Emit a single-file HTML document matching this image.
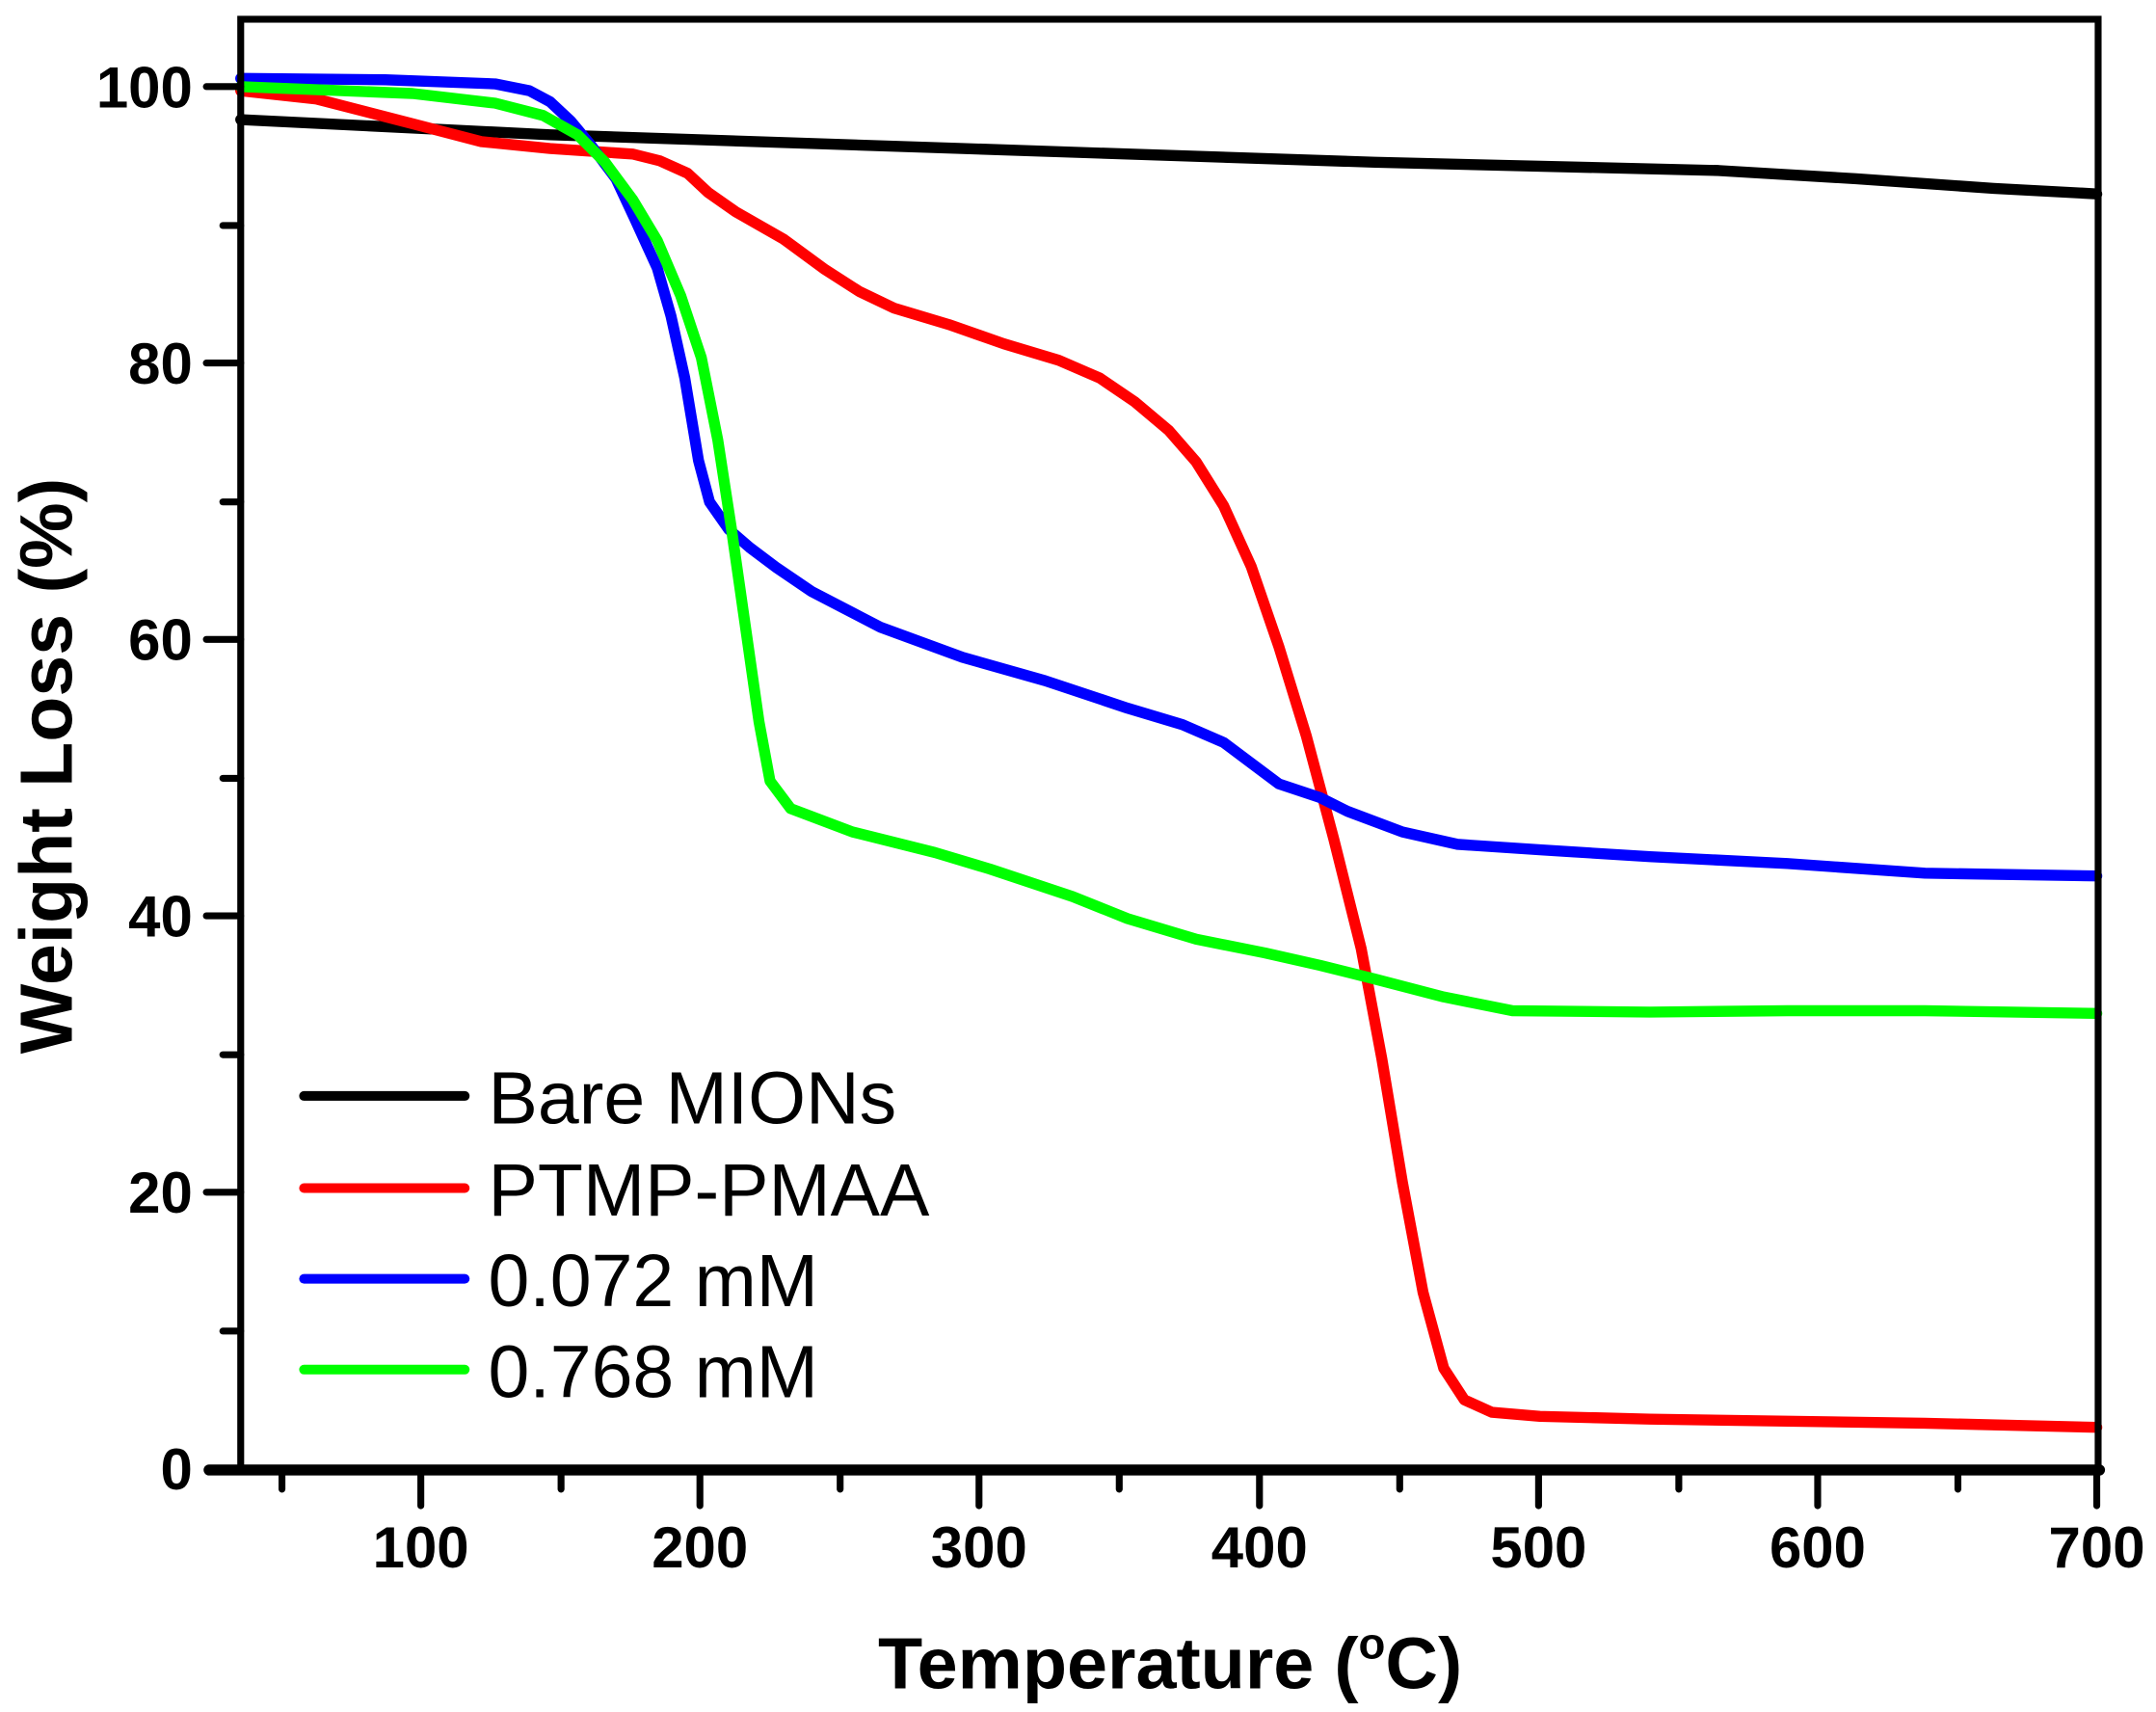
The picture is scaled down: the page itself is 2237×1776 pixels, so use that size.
<!DOCTYPE html>
<html><head><meta charset="utf-8"><style>html,body{margin:0;padding:0;background:#fff}svg{display:block}</style></head><body>
<svg width="2237" height="1776" viewBox="0 0 1568 1245" xmlns="http://www.w3.org/2000/svg" font-family="Liberation Sans, Arial, sans-serif">
<rect width="1568" height="1245" fill="#fff"/>
<g fill="none" stroke-linejoin="round" stroke-linecap="round" stroke-width="8">
<polyline stroke="#000" points="175,87 400,98 700,108 1000,118 1250,124 1350,130 1450,137 1525,141"/>
<polyline stroke="#f00" points="175,66 230,72 300,90 350,103 400,108 460,112 480,117 500,126 515,140 535,154 570,174 600,196 625,212 650,224 690,236 730,250 770,262 800,275 825,292 850,313 870,336 890,368 910,412 930,470 950,535 970,610 990,690 1005,770 1020,860 1035,940 1050,995 1065,1018 1085,1027 1120,1030 1200,1032 1400,1035 1525,1038"/>
<polyline stroke="#00f" points="175,57 280,58 360,61 385,66 400,74 415,88 430,106 448,130 462,160 478,195 488,230 498,275 508,335 516,365 530,385 545,398 565,413 590,430 640,456 700,478 760,495 820,515 860,527 890,540 910,555 930,570 960,580 980,590 1020,605 1060,614 1120,618 1200,623 1300,628 1400,635 1525,637"/>
<polyline stroke="#0f0" points="175,63 300,68 360,75 395,84 420,98 440,118 460,145 478,175 495,215 510,260 522,320 532,385 542,455 552,525 560,568 575,588 620,605 680,620 720,632 780,652 820,668 870,683 920,693 960,702 1000,712 1050,725 1100,735 1200,736 1300,735 1400,735 1525,737"/>
</g>
<g stroke="#000" stroke-linecap="round">
<rect x="175" y="14" width="1351" height="1055" fill="none" stroke-width="5"/>
<line x1="152" y1="1069" x2="1527" y2="1069" stroke-width="8"/>
<g stroke-width="5">
<line x1="150" y1="63" x2="175" y2="63"/><line x1="150" y1="264" x2="175" y2="264"/><line x1="150" y1="465" x2="175" y2="465"/><line x1="150" y1="666" x2="175" y2="666"/><line x1="150" y1="867" x2="175" y2="867"/>
<line x1="162" y1="164" x2="175" y2="164"/><line x1="162" y1="365" x2="175" y2="365"/><line x1="162" y1="566" x2="175" y2="566"/><line x1="162" y1="767" x2="175" y2="767"/><line x1="162" y1="968" x2="175" y2="968"/>
<line x1="306" y1="1069" x2="306" y2="1095"/><line x1="509" y1="1069" x2="509" y2="1095"/><line x1="712" y1="1069" x2="712" y2="1095"/><line x1="916" y1="1069" x2="916" y2="1095"/><line x1="1119" y1="1069" x2="1119" y2="1095"/><line x1="1322" y1="1069" x2="1322" y2="1095"/><line x1="1525" y1="1069" x2="1525" y2="1095"/>
<line x1="205" y1="1069" x2="205" y2="1083"/><line x1="408" y1="1069" x2="408" y2="1083"/><line x1="611" y1="1069" x2="611" y2="1083"/><line x1="814" y1="1069" x2="814" y2="1083"/><line x1="1018" y1="1069" x2="1018" y2="1083"/><line x1="1221" y1="1069" x2="1221" y2="1083"/><line x1="1424" y1="1069" x2="1424" y2="1083"/>
</g>
</g>
<g font-weight="bold" font-size="42" text-anchor="end">
<text x="140" y="78">100</text><text x="140" y="279">80</text><text x="140" y="480">60</text><text x="140" y="681">40</text><text x="140" y="882">20</text><text x="140" y="1083">0</text>
</g>
<g font-weight="bold" font-size="42" text-anchor="middle">
<text x="306" y="1140">100</text><text x="509" y="1140">200</text><text x="712" y="1140">300</text><text x="916" y="1140">400</text><text x="1119" y="1140">500</text><text x="1322" y="1140">600</text><text x="1525" y="1140">700</text>
</g>
<text x="851" y="1228" font-weight="bold" font-size="53" text-anchor="middle">Temperature (<tspan font-size="32" dy="-22">o</tspan><tspan dy="22">C)</tspan></text>
<text transform="translate(52,557) rotate(-90)" font-weight="bold" font-size="54" text-anchor="middle">Weight Loss (%)</text>
<g stroke-width="7" stroke-linecap="round">
<line x1="221" y1="797" x2="338" y2="797" stroke="#000"/>
<line x1="221" y1="864" x2="338" y2="864" stroke="#f00"/>
<line x1="221" y1="930" x2="338" y2="930" stroke="#00f"/>
<line x1="221" y1="996" x2="338" y2="996" stroke="#0f0"/>
</g>
<g font-size="54">
<text x="355" y="817">Bare MIONs</text>
<text x="355" y="884">PTMP-PMAA</text>
<text x="355" y="950">0.072 mM</text>
<text x="355" y="1016">0.768 mM</text>
</g>
</svg>
</body></html>
